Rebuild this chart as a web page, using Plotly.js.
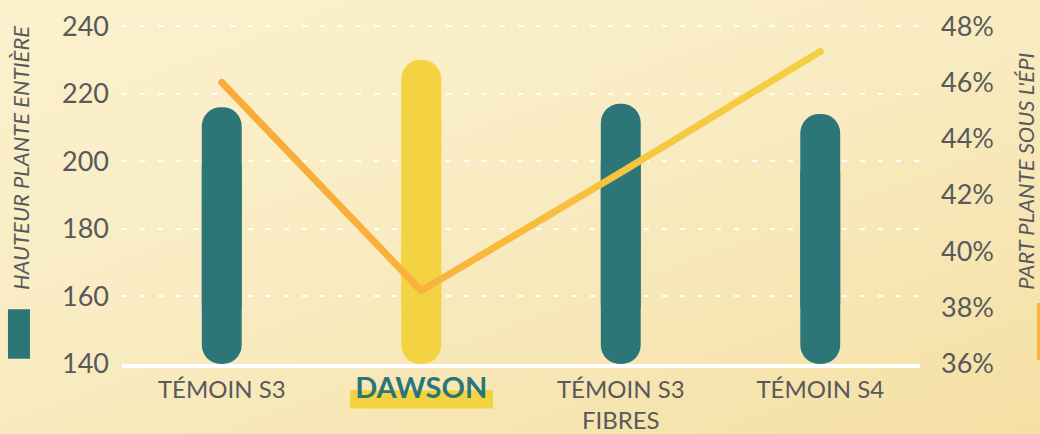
<!DOCTYPE html>
<html><head><meta charset="utf-8">
<script src="https://cdn.plot.ly/plotly-3.0.1.min.js"></script>
<style>
html,body{margin:0;padding:0;width:1040px;height:434px;overflow:hidden;
background:linear-gradient(160deg,#FBF1CD 0%,#F9ECC3 45%,#F5E0A4 100%);}
#chart{width:1040px;height:434px;}
</style></head><body>
<div id="chart"></div>
<script>
// ---- data ----
const categories = ["TÉMOIN S3", "DAWSON", "TÉMOIN S3 FIBRES", "TÉMOIN S4"];
const tickLabels = ["TÉMOIN S3", "<b><span style='color:#2C7677;font-size:29px'>DAWSON</span></b>", "TÉMOIN S3<br>FIBRES", "TÉMOIN S4"];
const hauteur = [216, 230, 217, 214];            // hauteur plante entière
const partSousEpi = [0.460, 0.386, 0.428, 0.471]; // part plante sous l'épi
const yTicks = [140, 160, 180, 200, 220, 240];
const y2Ticks = [0.36, 0.38, 0.40, 0.42, 0.44, 0.46, 0.48];

// ---- style ----
const TEAL = "#2D7677", YELLOW = "#F4D342", GREY = "#58595B";
const barColors = categories.map(c => c === "DAWSON" ? YELLOW : TEAL);
const pad = 1.2; // small extra range above 240
const yMin = 140, yMax = 240 + pad;
const y2Min = 0.36, y2Max = 0.48 + pad * 0.12 / 100;
const overlap = 12; // units kept from each rounded end

const font = "Lato, 'Open Sans', sans-serif";

const traces = [
  // upper part: rounded top
  { type: "bar", x: categories, base: yMin + overlap, y: hauteur.map(v => v - (yMin + overlap)),
    width: 0.2, marker: { color: barColors, cornerradius: 20 }, hoverinfo: "skip", showlegend: false },
  // lower part: rounded bottom
  { type: "bar", x: categories, base: hauteur.map(v => v - overlap), y: hauteur.map(v => yMin - (v - overlap)),
    width: 0.2, marker: { color: barColors, cornerradius: 20 }, hoverinfo: "skip", showlegend: false },
  { type: "scatter", mode: "lines", x: categories, y: partSousEpi, yaxis: "y2",
    line: { color: "#F9B03C", width: 7 }, hoverinfo: "skip", showlegend: false }
];

const layout = {
  width: 1040, height: 434,
  margin: { l: 122, r: 120, t: 22, b: 70 },
  paper_bgcolor: "rgba(0,0,0,0)", plot_bgcolor: "rgba(0,0,0,0)",
  barmode: "overlay",
  font: { family: font, color: GREY },
  xaxis: {
    type: "category", tickvals: categories, ticktext: tickLabels,
    showgrid: false, zeroline: false, showline: true, linecolor: "#FFFFFF", linewidth: 4,
    ticks: "", tickfont: { size: 24, color: GREY }, ticklabelstandoff: 1,
    fixedrange: true
  },
  yaxis: {
    range: [yMin, yMax], tickvals: yTicks, ticks: "",
    showgrid: true, gridcolor: "#FFFFFF", gridwidth: 2, griddash: "5px,13px",
    zeroline: false, showline: false,
    tickfont: { size: 27, color: GREY }, ticklabelstandoff: 12
  },
  yaxis2: {
    overlaying: "y", side: "right", range: [y2Min, y2Max], tickvals: y2Ticks,
    tickformat: ".0%", ticks: "", showgrid: false, zeroline: false, showline: false,
    tickfont: { size: 27, color: GREY }, ticklabelstandoff: 20
  },
  shapes: [
    { type: "rect", xref: "paper", yref: "paper", x0: 0.2857, x1: 0.4649, y0: -0.130, y1: -0.077,
      fillcolor: YELLOW, line: { width: 0 }, layer: "below" },
    { type: "rect", xref: "paper", yref: "paper", x0: -0.1429, x1: -0.1153, y0: 0.015, y1: 0.160,
      fillcolor: TEAL, line: { width: 0 } },
    { type: "rect", xref: "paper", yref: "paper", x0: 1.1466, x1: 1.17, y0: 0.012, y1: 0.178,
      fillcolor: "#F8B53C", line: { width: 0 } }
  ],
  annotations: [
    { text: "<i>HAUTEUR PLANTE ENTIÈRE</i>", textangle: -90, xref: "paper", yref: "paper",
      x: -0.128, y: 0.210, xanchor: "center", yanchor: "bottom", showarrow: false,
      font: { size: 22, color: GREY, family: font } },
    { text: "<i>PART PLANTE SOUS L'ÉPI</i>", textangle: -90, xref: "paper", yref: "paper",
      x: 1.133, y: 0.210, xanchor: "center", yanchor: "bottom", showarrow: false,
      font: { size: 22, color: GREY, family: font } }
  ]
};

Plotly.newPlot("chart", traces, layout, { staticPlot: true, displayModeBar: false }).then(gd => {
  const svg = gd.querySelector("svg.main-svg");
  const ns = "http://www.w3.org/2000/svg";
  let defs = svg.querySelector("defs");
  if (!defs) { defs = document.createElementNS(ns, "defs"); svg.insertBefore(defs, svg.firstChild); }
  const lg = document.createElementNS(ns, "linearGradient");
  lg.setAttribute("id", "lineGrad");
  lg.setAttribute("gradientUnits", "userSpaceOnUse");
  const xa = gd._fullLayout.xaxis;
  lg.setAttribute("x1", xa.l2p(0)); lg.setAttribute("x2", xa.l2p(categories.length - 1));
  lg.setAttribute("y1", 0); lg.setAttribute("y2", 0);
  [["0", "#F9AA3A"], ["0.33", "#F9B23C"], ["0.66", "#F6C43E"], ["1", "#F5D042"]].forEach(([o, c]) => {
    const s = document.createElementNS(ns, "stop");
    s.setAttribute("offset", o); s.setAttribute("stop-color", c); lg.appendChild(s);
  });
  defs.appendChild(lg);
  gd.querySelectorAll(".scatterlayer .js-line").forEach(p => {
    p.style.stroke = "url(#lineGrad)";
    p.style.strokeLinecap = "round";
    p.style.strokeLinejoin = "round";
  });
});
</script>
</body></html>
